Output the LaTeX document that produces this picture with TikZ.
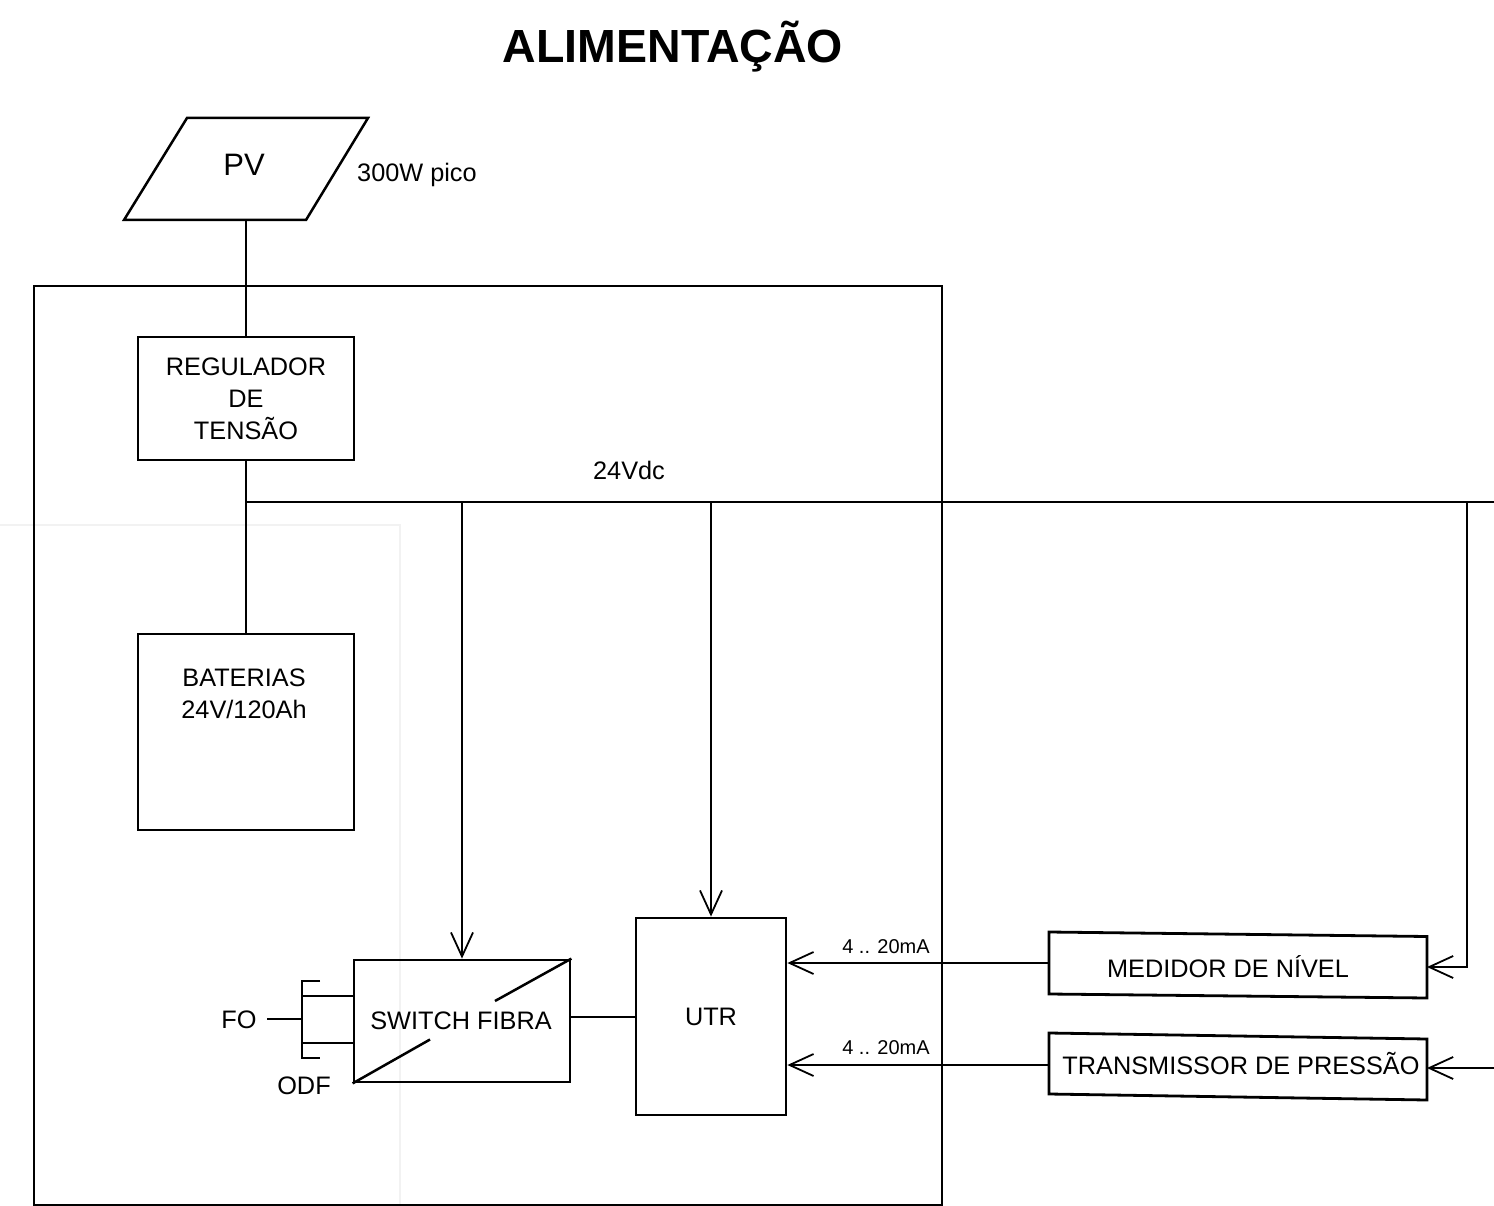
\documentclass[tikz,border=0pt]{standalone}
\usepackage{fontspec}
\setmainfont{Liberation Sans}
\usetikzlibrary{arrows.meta}
\begin{document}
\begin{tikzpicture}[x=1pt,y=-1pt,
  box/.style={draw,line width=2.8pt,inner sep=0pt,align=center,font=\fontsize{25.3}{32}\selectfont},
  conn/.style={line width=1.8pt},
  arr/.style={conn,-{Straight Barb[length=24pt,width=22pt,line width=1.8pt]}},
  lbl/.style={inner sep=0pt,align=center,font=\fontsize{25.3}{32}\selectfont},
  small/.style={inner sep=0pt,font=\fontsize{20}{24}\selectfont}]
\useasboundingbox (0,0) rectangle (1494,1206);
% faint background frame
\draw[black!5,line width=1.5pt] (0,525) -- (400,525) -- (400,1206);
% title
\node[inner sep=0pt,font=\bfseries\fontsize{46.5}{54}\selectfont] (title) at (673,47) {ALIMENTAÇÃO};
% PV panel
\draw[line width=2.5pt,line join=miter] (187,118) -- (368,118) -- (306,220) -- (124,220) -- cycle;
\node[inner sep=0pt,font=\fontsize{31}{36}\selectfont] (pv) at (244,165) {PV};
\node[lbl,anchor=west] (pvlbl) at (357,175) {300W pico};
\coordinate (pvb) at (246,220);
% outer enclosure
\draw[line width=1.6pt] (34,286) rectangle (942,1205);
% regulator
\node[box,minimum width=216pt,minimum height=123pt] (reg) at (246,398.5) {REGULADOR\\DE\\TENSÃO};
\draw[conn] (pvb) -- (reg.north);
% batteries
\node[box,minimum width=216pt,minimum height=196pt] (bat) at (246,732) {};
\node[lbl] (battxt) at (244,694) {BATERIAS\\24V/120Ah};
\draw[conn] (reg.south) -- (bat.north);
% 24Vdc bus
\coordinate (j0) at (246,502);
\coordinate (busR) at (1494,502);
\coordinate (dropR) at (1467,502);
\coordinate (dropS) at (462,502);
\coordinate (dropU) at (711,502);
\draw[conn] (j0) -- (busR);
\node[lbl] (vdc) at (629,470) {24Vdc};
% switch fibra
\node[draw,line width=2.8pt,minimum width=216pt,minimum height=122pt,inner sep=0pt] (sw) at (462,1021) {};
\node[lbl] (swtxt) at (461,1021) {SWITCH FIBRA};
\draw[line width=2.5pt] (sw.south west) -- (430,1039.5);
\draw[line width=2.5pt] (495,1001) -- (sw.north east);
\draw[arr] (dropS) -- (sw.north);
% UTR
\node[box,minimum width=150pt,minimum height=197pt] (utr) at (711,1016.5) {UTR};
\draw[arr] (dropU) -- (utr.north);
\draw[conn] (sw.east |- 0,1017) -- (utr.west |- 0,1017);
% ODF / FO
\coordinate (o1) at (320,981);
\coordinate (o2) at (302,981);
\coordinate (o3) at (302,1058);
\coordinate (o4) at (320,1058);
\draw[conn] (o1) -- (o2) -- (o3) -- (o4);
\draw[conn] (302,996) -- (sw.west |- 0,996);
\draw[conn] (302,1043) -- (sw.west |- 0,1043);
\node[lbl] (fo) at (239,1020) {FO};
\coordinate (foEnd) at (267,1019);
\draw[conn] (foEnd) -- (302,1019);
\node[lbl] (odf) at (304,1086) {ODF};
% medidor de nivel
\draw[line width=2.8pt,line join=miter] (1049,932) -- (1427,936.5) -- (1427,998) -- (1049,994) -- cycle;
\node[inner sep=0pt,font=\fontsize{25.3}{30}\selectfont] (med) at (1228,967) {MEDIDOR DE NÍVEL};
\coordinate (medW) at (1049,963);
\coordinate (medE) at (1427,967);
% transmissor de pressao
\draw[line width=2.8pt,line join=miter] (1049,1033) -- (1427,1039) -- (1427,1100) -- (1049,1094) -- cycle;
\node[inner sep=0pt,font=\fontsize{25.3}{30}\selectfont] (tp) at (1241,1064) {TRANSMISSOR DE PRESSÃO};
\coordinate (tpW) at (1049,1065);
\coordinate (tpE) at (1427,1068);
\coordinate (tpR) at (1494,1068);
% signals to UTR
\draw[arr] (medW) -- (utr.east |- medW);
\node[small] (ma1) at (886,947) {4 .. 20mA};
\draw[arr] (tpW) -- (utr.east |- tpW);
\node[small] (ma2) at (886,1048) {4 .. 20mA};
% power to field instruments
\draw[arr] (dropR) -- (1467,967) -- (medE);
\draw[arr] (tpR) -- (tpE);
\end{tikzpicture}
\end{document}
